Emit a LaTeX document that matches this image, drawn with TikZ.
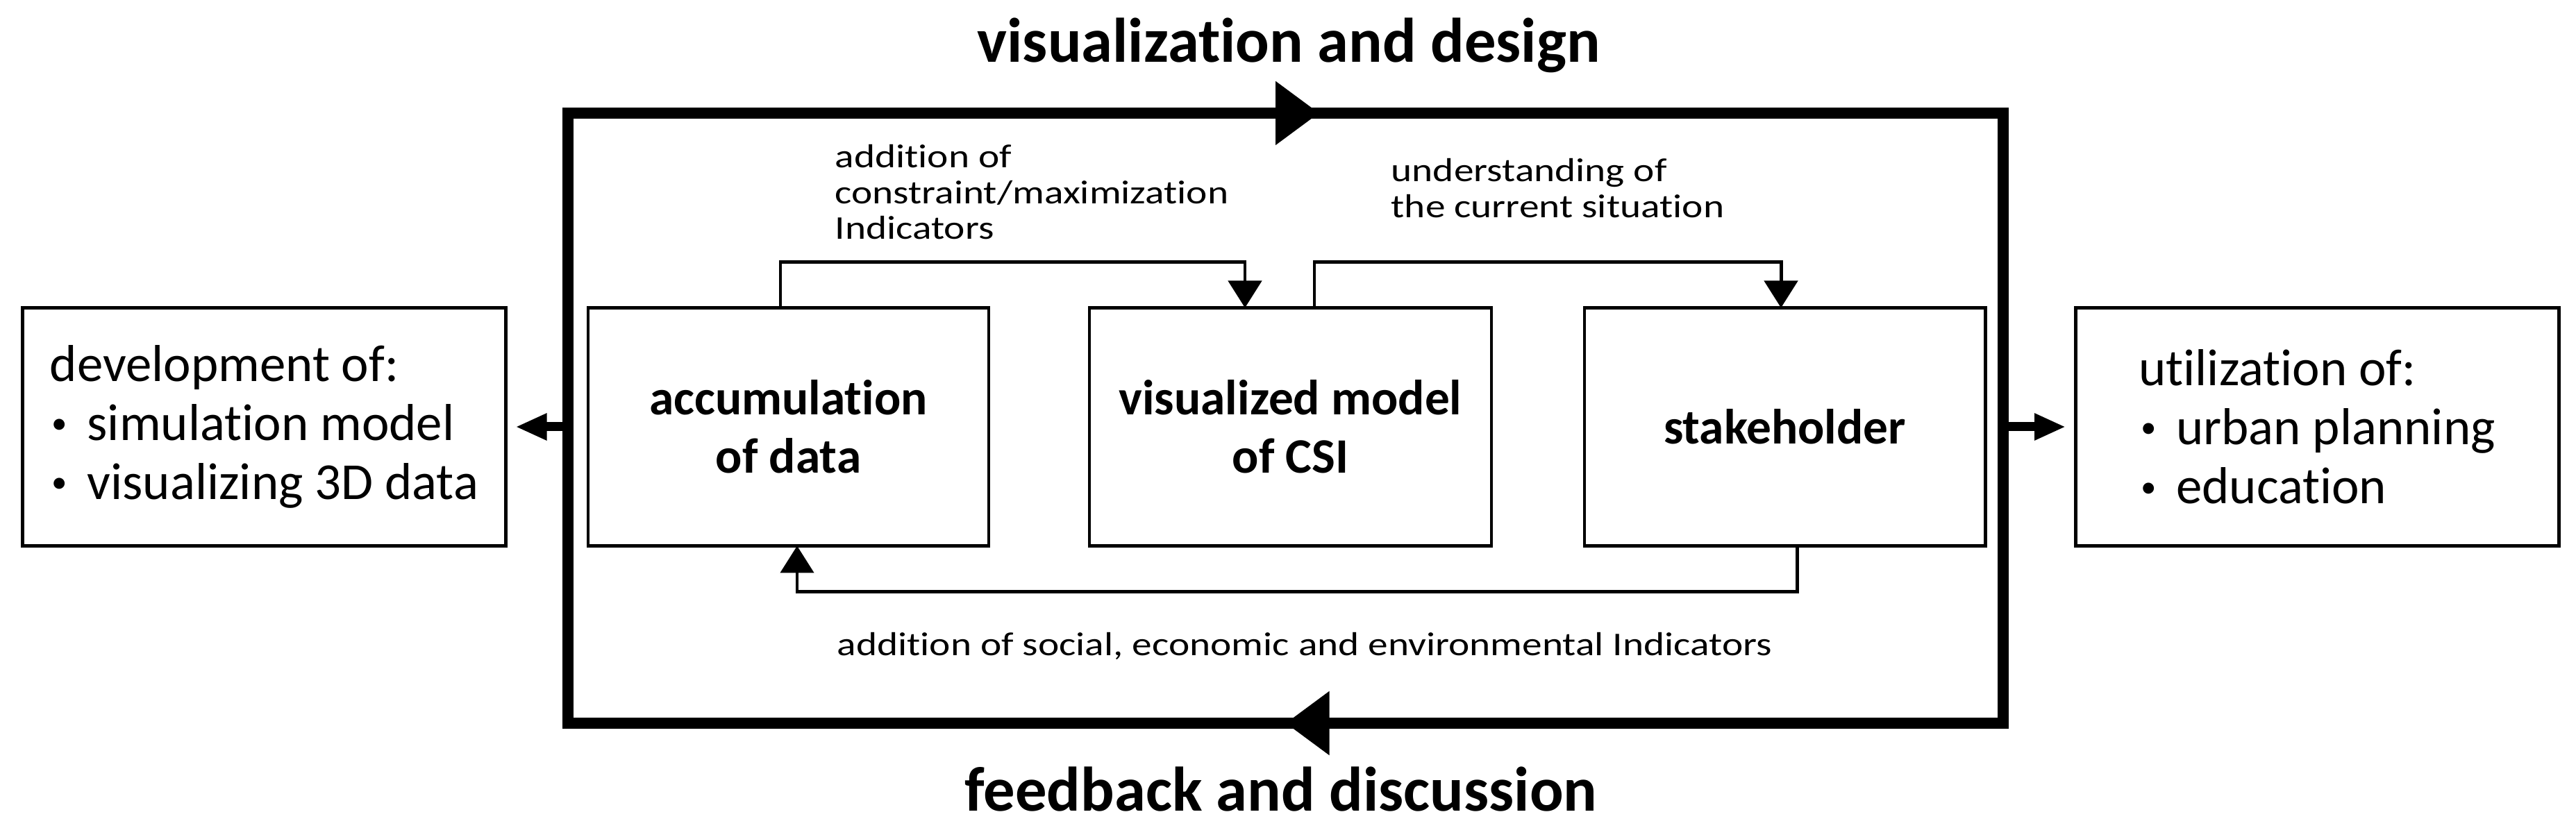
\documentclass[tikz,border=0pt]{standalone}
\usepackage{fontspec}
\setmainfont{Carlito}[Ligatures=NoCommon]
\newfontfamily\widefont{Carlito}[FakeStretch=1.2,Ligatures=NoCommon]
\newcommand\dotitem{\makebox[0.72em][l]{\hspace{0.04em}\raisebox{0.13em}{\scalebox{0.6}{•}}}}
\usetikzlibrary{arrows.meta,calc}

\begin{document}
\begin{tikzpicture}[
    box/.style={draw,line width=1.4pt,inner sep=0pt,outer sep=0pt,minimum height=3.43cm},
    stage/.style={box,minimum width=5.77cm,align=center,font=\bfseries\fontsize{20.3}{24}\selectfont},
    extbox/.style={box,minimum width=6.96cm,align=left,font=\fontsize{21.3}{24.2}\selectfont},
    note/.style={inner sep=0pt,font=\widefont\fontsize{13.6}{14.6}\selectfont},
    heading/.style={inner sep=0pt,font=\bfseries\fontsize{25.8}{30}\selectfont},
    link/.style={line width=1.4pt,-{Triangle[length=3.9mm,width=4.8mm]}},
    bigtip/.style={line width=4.8pt,-{Triangle[length=6.3mm,width=8.8mm]}},
    sidearrow/.style={line width=3.7pt,-{Triangle[length=4.5mm,width=3.6mm]},shorten >=1.4mm}
]
    \useasboundingbox (0,0) rectangle (37.10,11.92);

    % Cadre du cycle
    \node[draw,line width=4.8pt,inner sep=0pt,outer sep=0pt,
          minimum width=20.67cm,minimum height=8.79cm] (loop) at (18.515,5.895) {};
    \draw[bigtip] (loop.north west) -- ([xshift=4.85mm]loop.north);
    \draw[bigtip] (loop.south east) -- (loop.south);

    % Titres
    \node[heading,anchor=base] (headtop) at (18.56,11.02) {visualization and design};
    \node[heading,anchor=base] (headbot) at (18.45,0.24) {feedback and discussion};

    % Boites
    \node[extbox] (dev) at (3.805,5.77) {development of:\\\dotitem simulation model\\\dotitem visualizing 3D data};
    \node[extbox] (use) at (33.37,5.77) {utilization of:\\\dotitem urban planning\\\dotitem education};
    \node[stage] (acc) at (11.355,5.77) {accumulation\\of data};
    \node[stage,minimum width=5.79cm] (vis) at (18.585,5.77) {visualized model\\of CSI};
    \node[stage] (stk) at (25.705,5.77) {stakeholder};

    % Fleches vers l'exterieur
    \draw[sidearrow] (loop.west |- dev.east) -- (dev.east);
    \draw[sidearrow] (loop.east |- use.west) -- (use.west);

    % Liaisons
    \draw[link] ([xshift=-1.15mm]acc.north) -- ++(0,0.66) -| ([xshift=-6.55mm]vis.north);
    \draw[link] ([xshift=3.45mm]vis.north) -- ++(0,0.66) -| ([xshift=-0.55mm]stk.north);
    \draw[link] ([xshift=1.75mm]stk.south) -- ++(0,-0.66) -| ([xshift=1.25mm]acc.south);

    % Etiquettes
    \node[note,align=left,anchor=north west] (lblcon) at (12.02,9.84) {addition of\\constraint/maximization\\Indicators};
    \node[note,align=left,anchor=north west] (lblund) at (20.03,9.64) {understanding of\\the current situation};
    \node[note,anchor=base] (lblsoc) at (18.79,2.47) {addition of social, economic and environmental Indicators};
\end{tikzpicture}
\end{document}
